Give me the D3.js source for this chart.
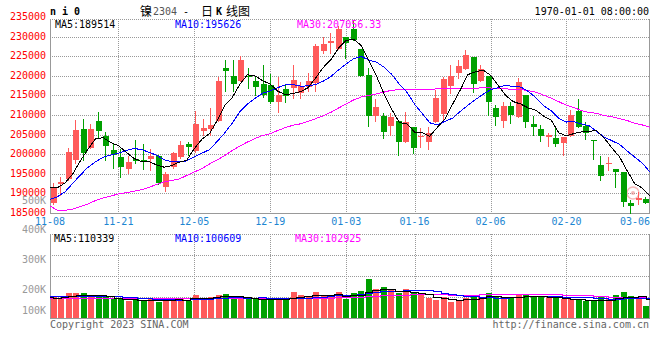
<!DOCTYPE html>
<html><head><meta charset="utf-8">
<script src="https://cdn.jsdelivr.net/npm/d3@7"></script>
<style>
html,body{margin:0;padding:0;background:#fff;}
svg{display:block;}
text{font-family:"DejaVu Sans Mono","Liberation Mono",monospace;font-size:10px;}
.cjk{font-family:"Noto Sans CJK SC","DejaVu Sans",sans-serif;font-size:12px;}
</style></head><body>
<svg id="c" width="660" height="360"></svg>
<script>
// ---------------- data ----------------
const dates = ["11-08","11-09","11-10","11-11","11-14","11-15","11-16","11-17","11-18","11-21","11-22","11-23","11-24","11-25","11-28","11-29","11-30","12-01","12-02","12-05","12-06","12-07","12-08","12-09","12-12","12-13","12-14","12-15","12-16","12-19","12-20","12-21","12-22","12-23","12-26","12-27","12-28","12-29","12-30","01-03","01-04","01-05","01-06","01-09","01-10","01-11","01-12","01-13","01-16","01-17","01-18","01-19","01-20","01-30","01-31","02-01","02-02","02-03","02-06","02-07","02-08","02-09","02-10","02-13","02-14","02-15","02-16","02-17","02-20","02-21","02-22","02-23","02-24","02-27","02-28","03-01","03-02","03-03","03-06","03-07"];
const tickDates = ["11-08","11-21","12-05","12-19","01-03","01-16","02-06","02-20","03-06"];
const priceTicks = [185000,190000,195000,200000,205000,210000,215000,220000,225000,230000,235000];
const volTickLabels = ["500K","400K","300K","200K","100K"];
const volTickValues = [500000,400000,300000,200000,100000];

const open = [187600,192400,193670,198520,206430,201660,208470,204640,201070,199210,
196300,198850,198600,198780,199540,191710,196810,199360,202530,200820,
206000,206430,208550,221910,219950,218750,219950,218670,217830,217650,
213390,216630,216960,215540,217220,218240,226330,228440,226760,229820,
231940,226840,220200,209750,209750,207190,208470,203190,206900,204310,
203030,208140,210250,217400,220640,221740,224870,218750,219950,211710,
208470,212370,209410,215100,207700,206430,204470,204060,202780,204720,
211020,207190,203540,197240,197420,196220,195380,187630,188320,188570];
const high = [192600,194100,201660,208720,208900,207700,210840,205740,202780,201250,
199540,203620,202600,201250,199800,195540,200640,203440,203030,211100,
208900,211860,219770,224030,224030,225130,221910,219950,222760,220380,
219620,217910,222760,218500,220640,228030,229980,230840,232700,229820,
234300,226840,221910,214080,210430,210590,208470,210690,206900,206610,
206860,216380,219690,222760,224030,226580,224870,222760,219950,212550,
213390,213390,219510,215100,209750,207450,205330,206860,204310,211280,
214000,208290,203540,199540,199210,196220,195380,188320,190430,189000];
const low = [187300,189600,193400,197750,198520,201660,204060,198520,196400,194100,
195280,197680,196220,195970,192320,190690,196400,198950,199800,200560,
204900,204900,208550,216200,216120,218750,216810,215100,214670,213140,
210840,213390,214260,214260,216120,216200,225740,225900,226760,224620,
229130,219950,207190,208550,204060,204900,199800,203190,200380,201910,
201250,208140,208290,215720,219360,221740,215800,218750,210000,207450,
206860,208040,209410,206860,204900,203440,202090,202170,199800,204720,
206860,203880,198780,193420,195970,191710,186860,185000,187300,187630];
const close = [191500,192900,200640,206170,200380,206430,206000,202170,199720,196810,
198010,198340,198010,199540,192730,194950,200230,202350,201910,207700,
206760,207450,218670,221300,217830,224030,219620,217220,215100,213390,
215100,214850,218930,217400,218670,227680,228110,228950,231940,228440,
229130,219950,209750,211970,205740,209570,203190,208290,201500,204720,
205330,214410,219180,219950,222580,225310,217830,221660,213390,209570,
212370,210000,218500,208290,206860,204720,204900,202530,204310,210000,
206860,205480,203370,194440,197680,195380,187880,186860,188750,187630];

const ma5 = [191400,191500,192700,195000,198320,201300,203920,204240,202940,202220,
200540,199000,198160,198120,197300,196700,197080,197960,198440,201440,
203800,205260,208520,212400,214420,217860,220280,219980,218740,217860,
216080,215140,215480,215940,217000,219520,222160,224180,227080,229020,
229300,227680,223840,219860,215320,211420,208060,207760,205660,205460,
204600,206840,209020,212720,216300,220300,220980,221480,220160,217560,
214980,213420,212780,211760,211220,209680,208660,205460,204660,205280,
205720,205840,206020,204040,201580,199280,195760,192460,191340,189320];
const ma10 = [188500,189160,190440,192580,194700,196660,198090,199210,199800,200270,
200920,201460,201200,200530,199760,198620,198040,198060,198280,199370,
200250,201170,203240,205420,207930,210830,212770,214250,215570,216140,
216970,217710,217730,217340,217430,217800,218650,219830,221510,223010,
224410,224920,224010,223470,222170,220360,217870,215800,212760,210390,
208010,207450,208390,209190,210880,212450,213910,215250,216440,216930,
217640,217200,217130,215960,214390,212330,211040,209120,208210,208250,
207700,207250,205740,204350,203430,202500,200800,199240,197690,195450];
const ma30 = [186790,185640,185690,186020,186610,187300,188190,188830,189340,189850,
190180,190540,190940,191500,192270,192910,193290,193670,194570,195460,
196350,197500,198520,199670,200940,202090,203110,204000,204770,205260,
206050,206780,207390,207760,208370,209080,209820,210710,211790,212840,
213880,214600,214990,215410,215840,216330,216430,216630,216610,216510,
216460,216690,216710,216670,216830,216870,216810,216960,216900,216780,
216690,216520,216510,216210,215810,215050,214270,213390,212470,211860,
211120,210630,210420,209830,209570,209090,208580,207870,207450,206880];

const volume = [106000,97000,126000,126000,126000,111000,109000,109000,97000,97000,
87000,97000,87000,97000,80000,104000,104000,97000,87000,118000,
97000,106000,118000,123000,109000,97000,97000,97000,97000,97000,
97000,97000,135000,118000,109000,135000,118000,118000,135000,96000,
130000,140000,200000,149000,160000,143000,130000,149000,135000,118000,
104000,92000,106000,83000,92000,104000,118000,106000,130000,109000,
106000,104000,123000,123000,109000,113000,101000,106000,97000,97000,
92000,89000,87000,113000,97000,118000,135000,113000,106000,61000];
const volMa5 = [105000,104000,108000,112000,116200,117200,119600,116200,110400,104600,
99800,97400,93000,93000,89600,93000,94400,96400,94400,102000,
100600,101000,105200,112400,110600,110600,108800,104600,99400,97000,
97000,97000,104600,108800,111200,118800,115400,115400,120600,112800,
115200,119600,132600,143200,149200,149800,135800,135800,130800,125800,
120600,109200,103400,96400,94000,96400,98800,103400,111000,112000,
109600,109200,107800,110600,111200,113000,108600,105200,102800,99600,
97800,94400,91200,93200,94200,100000,109600,109600,111200,99800];
const volMa10 = [112000,113000,114000,115000,115000,114000,113000,112000,111000,110400,
108500,108500,104600,101700,97100,96400,95900,94700,93700,95800,
96800,97700,100800,103400,106300,105600,104900,104900,105900,103800,
103800,102900,104600,104100,104100,107900,110000,112100,115900,115800,
119100,123400,129900,133000,138100,138900,140100,143200,143200,145400,
142800,138000,128600,122000,115200,111300,110100,105800,105300,104400,
104600,105800,107500,111500,113200,114100,112400,112400,109100,107900,
106500,105000,101400,100400,99200,99700,103100,103800,104700,101100];
const volMa30 = [101000,101000,101000,101000,101000,101000,101000,101000,101000,100000,
100000,100000,100000,100000,100000,100000,100000,100000,100000,100000,
100000,101000,101000,102000,102000,102000,103000,103000,103000,103300,
103000,103000,103300,103100,102500,103300,103600,103900,105200,105100,
106600,108000,111800,113500,116200,117500,118300,120100,121700,121700,
121900,121400,121000,119700,119100,119400,120100,120400,121500,121900,
122200,122400,122000,122200,122200,121400,120900,120500,119200,119200,
118000,116300,112500,111300,109200,108400,108500,107300,106400,104500];

const legendMain = [["MA5:189514","#000"],["MA10:195626","#0000ff"],["MA30:207056.33","#ff00ff"]];
const legendVol = [["MA5:110339","#000"],["MA10:100609","#0000ff"],["MA30:102925","#ff00ff"]];

// ---------------- layout ----------------
const L = 50, R = 650;
const mainTop = 19, mainBot = 213, volTop = 234, volBot = 318;
const UP = "#ff5a5a", DOWN = "#00a000";
const GRID = "#999";
const cr = v => Math.round(v) + 0.5;

const svg = d3.select("#c");
svg.append("rect").attr("width",660).attr("height",360).attr("fill","#fff");

const n = dates.length;
const idx = d3.range(n);
const xBand = d3.scaleBand().domain(idx).range([L, R]);
const xPt = d3.scalePoint().domain(idx).range([L, R]);
const y = d3.scaleLinear().domain([185000, 235000]).range([213, 17]);
const yv = d3.scaleLinear().domain([0, 430000]).range([volBot, volTop]);
const yvLabel = d3.scaleLinear().domain([100000, 500000]).range([319.5, 200]);

const tickIdx = tickDates.map(d => dates.indexOf(d));
const gridIdx = tickIdx.slice(1, -1);

// ---------- grids ----------
const grid = svg.append("g").attr("shape-rendering","crispEdges")
  .attr("stroke", GRID).attr("stroke-dasharray","1,1").attr("fill","none");
grid.selectAll(".hg").data(priceTicks.filter(v => v > 185000 && v < 235000)).join("line")
  .attr("x1", L).attr("x2", R).attr("y1", v => cr(y(v))).attr("y2", v => cr(y(v)));
grid.selectAll(".vg").data(gridIdx).join("line")
  .attr("x1", i => cr(xPt(i))).attr("x2", i => cr(xPt(i)))
  .attr("y1", mainTop).attr("y2", mainBot);
grid.selectAll(".vg2").data(gridIdx).join("line")
  .attr("x1", i => cr(xPt(i))).attr("x2", i => cr(xPt(i)))
  .attr("y1", volTop).attr("y2", volBot);
grid.selectAll(".hvg").data([0.25, 0.5, 0.75]).join("line")
  .attr("x1", L).attr("x2", R)
  .attr("y1", f => cr(yv(yv.domain()[1] * f))).attr("y2", f => cr(yv(yv.domain()[1] * f)));
// dotted top borders
grid.append("line").attr("x1", L).attr("x2", R).attr("y1", mainTop + 0.5).attr("y2", mainTop + 0.5);
grid.append("line").attr("x1", L).attr("x2", R).attr("y1", volTop + 0.5).attr("y2", volTop + 0.5);

// solid borders
const bord = svg.append("g").attr("shape-rendering","crispEdges").attr("stroke", GRID).attr("fill","none");
bord.append("path").attr("d", `M${L+0.5},${mainTop}V${mainBot+0.5}H${R-0.5}V${mainTop}`);
bord.append("path").attr("d", `M${L+0.5},${volTop}V${volBot+0.5}H${R-0.5}V${volTop}`);

// watermark
const wm = svg.append("g").attr("opacity", 0.55);
wm.append("circle").attr("cx", 633).attr("cy", 193).attr("r", 6).attr("fill","none").attr("stroke","#f08080").attr("stroke-width",1.5);
wm.append("circle").attr("cx", 633).attr("cy", 193).attr("r", 2).attr("fill","#f08080");

// ---------- candles ----------
const bodyX = i => Math.round(xBand(i) + xBand.bandwidth() / 2 - 3);
const color = i => close[i] >= open[i] ? UP : DOWN;
const cg = svg.append("g").attr("shape-rendering","crispEdges");
cg.selectAll(".wick").data(idx).join("line")
  .attr("x1", i => bodyX(i) + 2.5).attr("x2", i => bodyX(i) + 2.5)
  .attr("y1", i => Math.round(y(high[i]))).attr("y2", i => Math.round(y(low[i])) + 1)
  .attr("stroke", color);
cg.selectAll(".body").data(idx).join("rect")
  .attr("x", bodyX).attr("width", 6)
  .attr("y", i => Math.round(y(Math.max(open[i], close[i]))))
  .attr("height", i => Math.max(1, Math.round(y(Math.min(open[i], close[i]))) - Math.round(y(Math.max(open[i], close[i])))))
  .attr("fill", color);

// ---------- MA lines ----------
const line = d3.line().x((d, i) => xPt(i)).y(d => y(d));
const mg = svg.append("g").attr("fill","none").attr("stroke-width",1).attr("shape-rendering","crispEdges");
[[ma30,"#ff00ff"],[ma10,"#0000ff"],[ma5,"#000"]].forEach(([s, c]) =>
  mg.append("path").attr("d", line(s)).attr("stroke", c));

// ---------- volume ----------
const vg = svg.append("g").attr("shape-rendering","crispEdges");
vg.selectAll(".vb").data(idx).join("rect")
  .attr("x", bodyX).attr("width", 6)
  .attr("y", i => Math.round(yv(volume[i])))
  .attr("height", i => volBot - Math.round(yv(volume[i])))
  .attr("fill", color);
const vline = d3.line().x((d, i) => xPt(i)).y(d => Math.round(yv(d)) + 0.5).curve(d3.curveStep);
[[volMa30,"#ff00ff"],[volMa10,"#0000ff"],[volMa5,"#000"]].forEach(([s, c]) =>
  vg.append("path").attr("d", vline(s)).attr("stroke", c).attr("fill","none"));

// ---------- texts ----------
const t = svg.append("g");
t.selectAll(".py").data(priceTicks).join("text")
  .attr("x", 46).attr("y", v => y(v) + 3).attr("text-anchor","end").attr("fill","#ff0000")
  .text(v => v);
t.selectAll(".vy").data(volTickValues).join("text")
  .attr("x", 46).attr("y", (v) => Math.min(310, yvLabel(v)) + 3.5).attr("text-anchor","end").attr("fill","#999")
  .text((v, i) => volTickLabels[i]);
t.selectAll(".dx").data(tickIdx).join("text")
  .attr("y", 225).attr("fill","#1c86d2")
  .text(i => dates[i])
  .each(function(i) {
    const w = this.getComputedTextLength();
    let x = xPt(i);
    const s = d3.select(this);
    if (x + w / 2 > R) s.attr("x", R).attr("text-anchor","end");
    else s.attr("x", x).attr("text-anchor","middle");
  });

const lx = [55, 175, 297];
legendMain.forEach(([s, c], k) => t.append("text").attr("x", lx[k]).attr("y", 27.5).attr("fill", c).text(s));
const lvx = [54, 175, 295];
legendVol.forEach(([s, c], k) => t.append("text").attr("x", lvx[k]).attr("y", 242).attr("fill", c).text(s));

t.append("text").attr("x", 50).attr("y", 15).attr("font-weight","bold").attr("font-size","11px").attr("fill","#000").text("n i 0");
t.append("text").attr("x", 649).attr("y", 15).attr("text-anchor","end").attr("fill","#000").text("1970-01-01 08:00:00");
// title
t.append("text").attr("class","cjk").attr("x", 140).attr("y", 16).attr("fill","#000").text("镍");
t.append("text").attr("x", 153).attr("y", 15).attr("fill","#555").text("2304");
t.append("text").attr("x", 183).attr("y", 15).attr("fill","#000").text("-");
t.append("text").attr("class","cjk").attr("x", 201).attr("y", 16).attr("fill","#000").text("日");
t.append("text").attr("x", 216).attr("y", 15).attr("font-weight","bold").attr("font-size","11px").attr("fill","#000").text("K");
t.append("text").attr("class","cjk").attr("x", 226).attr("y", 16).attr("fill","#000").text("线图");

t.append("text").attr("x", 50).attr("y", 328).attr("fill","#666").text("Copyright 2023 SINA.COM");
t.append("text").attr("x", 649).attr("y", 328).attr("text-anchor","end").attr("fill","#666").text("http://finance.sina.com.cn");
</script>
</body></html>
